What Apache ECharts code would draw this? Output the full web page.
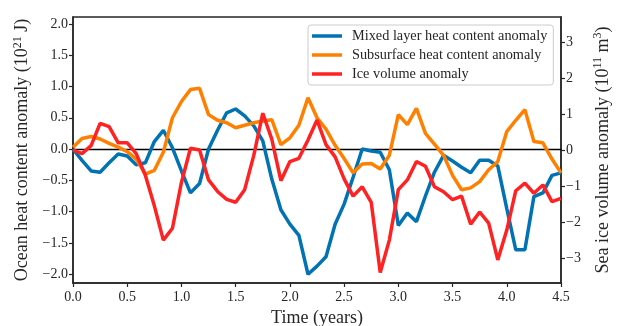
<!DOCTYPE html>
<html>
<head>
<meta charset="utf-8">
<script src="https://cdn.jsdelivr.net/npm/echarts@6/dist/echarts.min.js"></script>
<style>
  html, body { margin: 0; padding: 0; background: #fff; }
  #chart { width: 620px; height: 326px; }
</style>
</head>
<body>
<div id="chart"></div>
<script>
// monthly samples, in years
const years = [0, 0.083, 0.167, 0.25, 0.333, 0.417, 0.5, 0.583, 0.667, 0.75, 0.833, 0.917,
  1, 1.083, 1.167, 1.25, 1.333, 1.417, 1.5, 1.583, 1.667, 1.75, 1.833, 1.917,
  2, 2.083, 2.167, 2.25, 2.333, 2.417, 2.5, 2.583, 2.667, 2.75, 2.833, 2.917,
  3, 3.083, 3.167, 3.25, 3.333, 3.417, 3.5, 3.583, 3.667, 3.75, 3.833, 3.917,
  4, 4.083, 4.167, 4.25, 4.333, 4.417, 4.5];

// 10^21 J
const mixedLayer = [0, -0.18, -0.35, -0.37, -0.22, -0.08, -0.11, -0.25, -0.22, 0.12,
  0.30, 0.02, -0.35, -0.70, -0.55, 0.0, 0.3, 0.58, 0.64, 0.53,
  0.37, 0.13, -0.48, -0.97, -1.20, -1.38, -2.0, -1.87, -1.72, -1.2,
  -0.88, -0.45, 0.0, -0.03, -0.05, -0.33, -1.22, -1.02, -1.16, -0.75,
  -0.37, -0.1, -0.19, -0.29, -0.38, -0.18, -0.18, -0.27, -0.95, -1.61,
  -1.61, -0.76, -0.70, -0.42, -0.38];

const subsurface = [0.03, 0.17, 0.20, 0.16, 0.09, 0.03, -0.04, -0.16, -0.40, -0.34,
  -0.05, 0.5, 0.76, 0.95, 0.97, 0.55, 0.46, 0.42, 0.34, 0.38,
  0.42, 0.45, 0.47, 0.07, 0.18, 0.38, 0.82, 0.5, 0.32, 0.06,
  -0.15, -0.38, -0.24, -0.23, -0.32, -0.1, 0.55, 0.39, 0.65, 0.25,
  0.08, -0.1, -0.42, -0.65, -0.62, -0.52, -0.33, -0.2, 0.28, 0.46,
  0.63, 0.12, 0.1, -0.16, -0.38];

// 10^11 m^3
const iceVolume = [0, -0.1, 0.12, 0.74, 0.65, 0.2, 0.2, -0.1, -0.7, -1.55,
  -2.5, -2.17, -0.9, 0.05, 0.0, -0.83, -1.15, -1.37, -1.45, -1.1,
  -0.15, 1.02, 0.3, -0.85, -0.32, -0.23, 0.28, 0.83, 0.15, -0.19,
  -0.8, -1.28, -1.02, -1.45, -3.4, -2.5, -1.1, -0.83, -0.32, -0.45,
  -1.02, -1.16, -1.38, -1.28, -2.06, -1.72, -2.03, -3.05, -2.22, -1.13,
  -0.92, -1.2, -0.97, -1.43, -1.34];

const heatTicks = [-2, -1.5, -1, -0.5, 0, 0.5, 1, 1.5, 2];
const iceTicks = [-3, -2, -1, 0, 1, 2, 3];

const font = "Liberation Serif";
const ink = "#262626";

const fmt = (v, d) => (v < 0 ? "\u2212" : "") + Math.abs(v).toFixed(d);
const pairs = (ys) => years.map((t, i) => [t, ys[i]]);

const nameRich = {
  n: { fontFamily: font, fontSize: 18, color: ink, lineHeight: 22 },
  s: { fontFamily: font, fontSize: 12, color: ink, lineHeight: 22, verticalAlign: "top" }
};

const chart = echarts.init(document.getElementById("chart"), null, { renderer: "canvas" });

chart.setOption({
  animation: false,
  grid: {
    left: 73, right: 59, top: 17, bottom: 43,
    outerBoundsMode: "none",
    show: true, borderColor: ink, borderWidth: 1.5, backgroundColor: "transparent"
  },
  legend: {
    left: 308, top: 25,
    orient: "vertical",
    icon: "rect",
    itemWidth: 30, itemHeight: 3.5, itemGap: 3,
    padding: [3, 6, 3, 4],
    backgroundColor: "rgba(255,255,255,0.8)",
    borderColor: "#cccccc", borderWidth: 1, borderRadius: 3,
    textStyle: { fontFamily: font, fontSize: 14.3, color: ink, lineHeight: 16, padding: [0, 0, 0, 5] },
    data: ["Mixed layer heat content anomaly", "Subsurface heat content anomaly", "Ice volume anomaly"]
  },
  xAxis: [
    {
      type: "value", min: 0, max: 4.5, interval: 0.5,
      name: "Time (years)", nameLocation: "middle", nameGap: 24,
      nameTextStyle: { fontFamily: font, fontSize: 18, color: ink },
      axisLine: { onZero: false, lineStyle: { color: ink, width: 1.5 } },
      axisTick: { length: 4, lineStyle: { color: ink, width: 1.2 } },
      axisLabel: { fontFamily: font, fontSize: 14, color: ink, margin: 7, formatter: (v) => fmt(v, 1) },
      splitLine: { show: false }
    },
    {
      // zero reference line
      type: "value", min: 0, max: 4.5,
      axisLine: { onZero: true, onZeroAxisIndex: 0, lineStyle: { color: "#000", width: 1.3 } },
      axisTick: { show: false }, axisLabel: { show: false }, splitLine: { show: false }
    }
  ],
  yAxis: [
    {
      type: "value", min: -2.14, max: 2.11, position: "left",
      name: "{n|Ocean heat content anomaly (10}{s|21}{n| J)}",
      nameLocation: "middle", nameRotate: 90, nameGap: 30,
      nameTextStyle: { fontFamily: font, fontSize: 18, color: ink, rich: nameRich },
      axisLine: { onZero: false, lineStyle: { color: ink, width: 1.5 } },
      axisTick: { length: 4, customValues: heatTicks, lineStyle: { color: ink, width: 1.2 } },
      axisLabel: { customValues: heatTicks, fontFamily: font, fontSize: 14, color: ink, margin: 5, formatter: (v) => fmt(v, 1) },
      splitLine: { show: false }
    },
    {
      type: "value", min: -3.69, max: 3.69, position: "right",
      name: "{n|Sea ice volume anomaly (10}{s|11}{n| m}{s|3}{n|)}",
      nameLocation: "middle", nameRotate: 90, nameGap: 31,
      nameTextStyle: { fontFamily: font, fontSize: 18, color: ink, rich: nameRich },
      axisLine: { onZero: false, lineStyle: { color: ink, width: 1.5 } },
      axisTick: { length: 4, customValues: iceTicks, lineStyle: { color: ink, width: 1.2 } },
      axisLabel: { customValues: iceTicks, fontFamily: font, fontSize: 14, color: ink, margin: 5, formatter: (v) => fmt(v, 0) },
      splitLine: { show: false }
    }
  ],
  series: [
    {
      name: "Mixed layer heat content anomaly",
      type: "line", xAxisIndex: 0, yAxisIndex: 0,
      data: pairs(mixedLayer),
      showSymbol: false,
      lineStyle: { width: 3.5, color: "#0173b2" },
      itemStyle: { color: "#0173b2" }
    },
    {
      name: "Subsurface heat content anomaly",
      type: "line", xAxisIndex: 0, yAxisIndex: 0,
      data: pairs(subsurface),
      showSymbol: false,
      lineStyle: { width: 3.5, color: "#ff8000" },
      itemStyle: { color: "#ff8000" }
    },
    {
      name: "Ice volume anomaly",
      type: "line", xAxisIndex: 0, yAxisIndex: 1,
      data: pairs(iceVolume),
      showSymbol: false,
      lineStyle: { width: 3.5, color: "#ff2222" },
      itemStyle: { color: "#ff2222" }
    }
  ]
});
</script>
</body>
</html>
